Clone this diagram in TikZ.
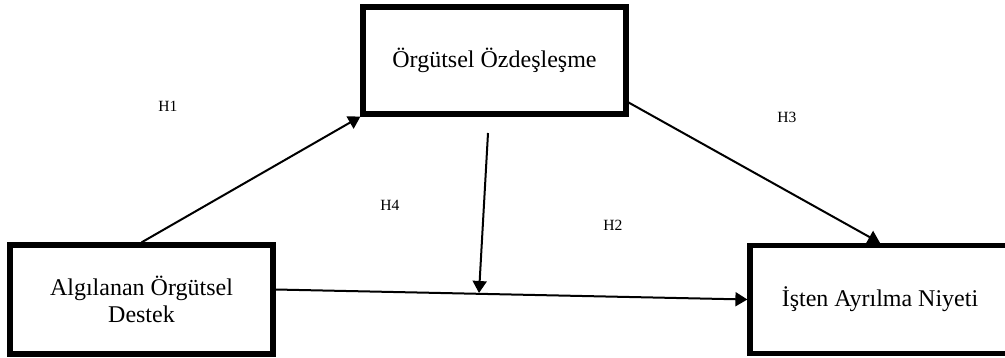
\documentclass[tikz,border=0pt]{standalone}
\usepackage{fontspec}
\setmainfont{Liberation Serif}
\usetikzlibrary{arrows.meta, positioning}

\tikzset{
    varbox/.style = {draw, line width=2.6pt, align=center, font=\fontsize{12}{13.5}\selectfont},
    hyplabel/.style = {font=\fontsize{7.8}{9}\selectfont, inner sep=0pt},
    hyparrow/.style = {-{Triangle[length=6pt, width=7pt]}, line width=1pt}
}

\begin{document}
\begin{tikzpicture}[x=0.5pt, y=-0.5pt]
    \useasboundingbox (0,0) rectangle (1005,358);

    \node[varbox, minimum width=131.5pt, minimum height=54.5pt] (destek) at (141.5, 299.5) {Algılanan Örgütsel\\Destek};
    \node[varbox, minimum width=131.5pt, minimum height=53.5pt] (ozdes) at (494.5, 60.5) {Örgütsel Özdeşleşme};
    \node[varbox, minimum width=130pt, minimum height=54pt] (niyet) at (880, 299.5) {İşten Ayrılma Niyeti};

    \node[hyplabel] (h1) at (168, 106) {H1};
    \node[hyplabel] (h2) at (613, 225) {H2};
    \node[hyplabel] (h3) at (787, 117) {H3};
    \node[hyplabel] (h4) at (390, 205) {H4};

    \coordinate (h4start) at (488, 133);
    \coordinate (h4end) at (479, 293);

    \draw[hyparrow] (destek.north) -- (ozdes.south west);
    \draw[hyparrow] ([yshift=-21pt]ozdes.east) -- (niyet.north);
    \draw[hyparrow] ([yshift=5pt]destek.east) -- (niyet.west);
    \draw[hyparrow] (h4start) -- (h4end);
\end{tikzpicture}
\end{document}
